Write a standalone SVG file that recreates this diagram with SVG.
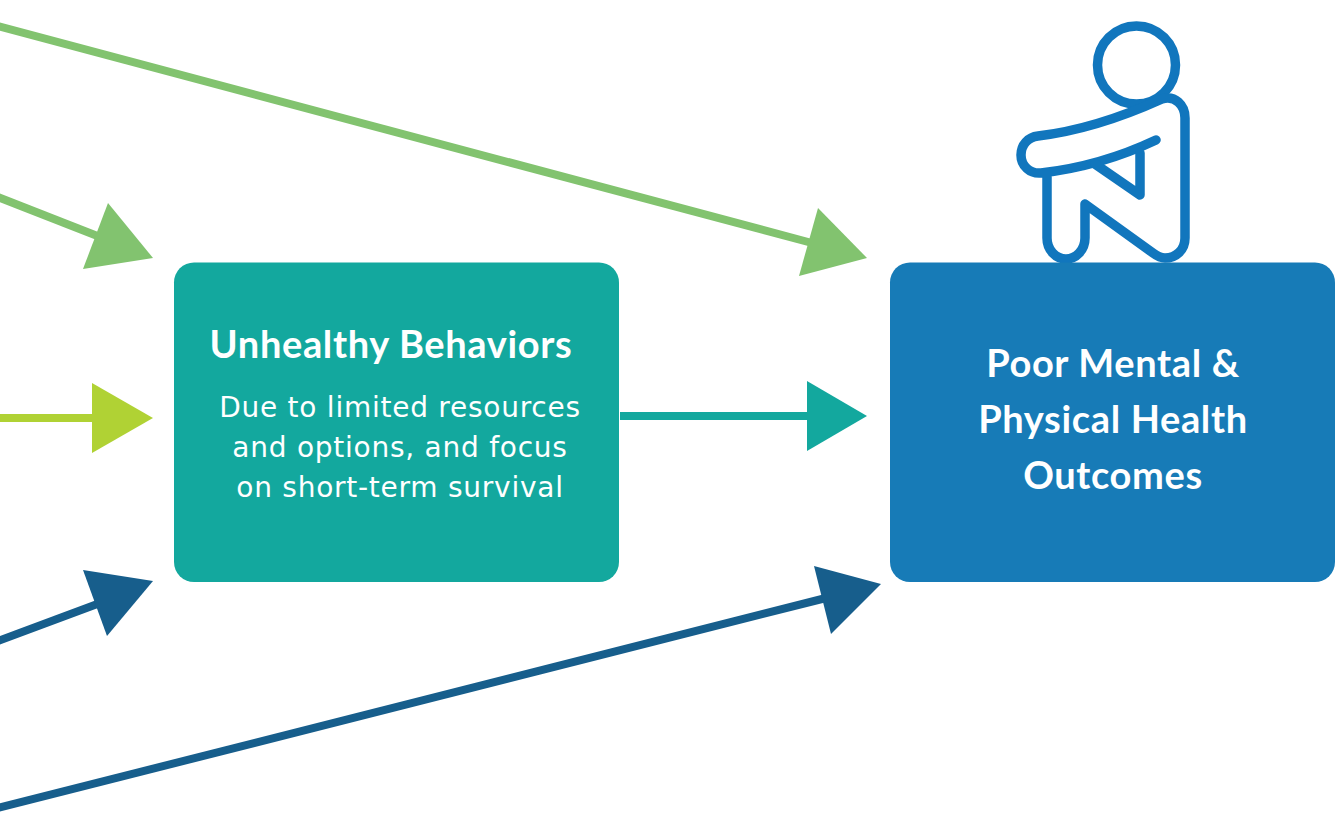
<svg xmlns="http://www.w3.org/2000/svg" width="1338" height="825" viewBox="0 0 1338 825">
<style>
.c{fill:none;stroke-width:8}
.h{font-family:"Lato","Open Sans",sans-serif;font-weight:700;font-size:38px;letter-spacing:.65px;fill:#fff;text-anchor:middle}
.b{font-family:"DejaVu Sans",sans-serif;font-size:28px;letter-spacing:.75px;fill:#fff;text-anchor:middle}
.i{fill:none;stroke:#1176bd;stroke-width:9.5;stroke-linecap:round;stroke-linejoin:round}
</style>
<rect width="1338" height="825" fill="#fff"/>
<g id="connectors">
<path class="c" stroke="#82c36f" d="M-10 24L812 243"/><polygon fill="#82c36f" points="867,258 799,276 818,208"/>
<path class="c" stroke="#82c36f" d="M-10 194L100 237"/><polygon fill="#82c36f" points="153,258 83,269 108,203"/>
<path class="c" stroke="#b0d234" d="M-10 418L95 418"/><polygon fill="#b0d234" points="153,418 92,453 92,383"/>
<path class="c" stroke="#13a89e" d="M620 416L810 416"/><polygon fill="#13a89e" points="867,416 807,451 807,381"/>
<path class="c" stroke="#175e8c" d="M-10 644L100 603"/><polygon fill="#175e8c" points="153,581 107,636 83,570"/>
<path class="c" stroke="#175e8c" d="M-10 810L826 598"/><polygon fill="#175e8c" points="881,584 831,634 814,566"/>
</g>
<g id="person-icon">
<circle class="i" cx="1136.5" cy="65" r="39"/>
<path class="i" d="M1156 140C1120 157 1085 168 1041 173C1030 174 1021 166 1021 155C1021 145 1028 137 1038 136C1080 131 1120 118 1162 99C1175 95 1185 105 1185 118L1185 238C1185 250 1176 258 1165 258C1160 258 1157 256 1153 253L1085 204L1085 238C1085 250 1076 259 1066 259C1056 259 1047 250 1047 238L1047 175"/>
<path class="i" d="M1140 153L1140 195L1095 164"/>
</g>
<g id="unhealthy-behaviors">
<rect x="174" y="262.5" width="445" height="319.5" rx="20" fill="#13a89e"/>
<text class="h" x="391" y="358">Unhealthy Behaviors</text>
<text class="b" x="400" y="417">Due to limited resources</text>
<text class="b" x="400" y="457">and options, and focus</text>
<text class="b" x="400" y="497">on short-term survival</text>
</g>
<g id="poor-outcomes">
<rect x="890" y="262.5" width="445" height="319.5" rx="20" fill="#177bb7"/>
<text class="h" x="1113" y="377">Poor Mental &amp;</text>
<text class="h" x="1113" y="433">Physical Health</text>
<text class="h" x="1113" y="489">Outcomes</text>
</g>
</svg>
